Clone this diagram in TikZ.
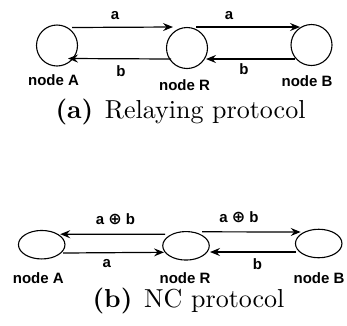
\documentclass[tikz,border=0pt]{standalone}
\usepackage{fontspec}
\newfontfamily\labfont{Liberation Sans}
\newfontfamily\symfont{DejaVu Sans}
\newfontfamily\capfont{lmroman10}[Extension=.otf,UprightFont=*-regular,BoldFont=*-bold]
\usetikzlibrary{arrows.meta,shapes.geometric}
\begin{document}
\begin{tikzpicture}[x=1pt,y=-1pt,
  station/.style={circle,draw,line width=1.1pt,minimum size=41pt,inner sep=0pt},
  ovalstation/.style={ellipse,draw,line width=1.1pt,minimum width=46.5pt,minimum height=28.5pt,inner sep=0pt},
  link/.style={line width=1.2pt,-{Stealth[length=10pt,width=8pt,inset=3.5pt]}},
  msg/.style={font=\labfont\bfseries\fontsize{15}{18}\selectfont,inner sep=0pt},
  tag/.style={font=\labfont\bfseries\fontsize{15}{18}\selectfont,inner sep=0pt,anchor=base},
  caption/.style={font=\capfont\fontsize{26}{30}\selectfont,inner sep=0pt,anchor=base}]
\useasboundingbox (0,0) rectangle (347,325);

% (a) relaying: three stations, two transmissions per hop
\node[station] (A1) at (57,45.5) {};
\node[station] (R1) at (187,48) {};
\node[station] (B1) at (311.5,45) {};

\draw[link] ([shift={(15,-18)}]A1.center) -- ([shift={(-14,-21)}]R1.center);
\draw[link] ([shift={(9,-21)}]R1.center) -- ([shift={(-11.5,-18)}]B1.center);
\draw[link] ([shift={(-16,11)}]R1.center) -- ([shift={(11,13)}]A1.center);
\draw[link] ([shift={(-16.5,14)}]B1.center) -- ([shift={(19,11)}]R1.center);

\node[msg] (ma1) at (115,16) {a};
\node[msg] (ma2) at (229,16) {a};
\node[msg] (mb1) at (121,71) {b};
\node[msg] (mb2) at (244,69) {b};

\node[tag] (tA1) at (53.5,85) {node A};
\node[tag] (tR1) at (184.5,90) {node R};
\node[tag] (tB1) at (307,86) {node B};

\node[caption] (capa) at (180.5,118) {\textbf{(a)}\hspace{0.45em}Relaying protocol};

% (b) network coding: relay broadcasts the XOR of both packets
\node[ovalstation] (A2) at (41.7,244.7) {};
\node[ovalstation] (R2) at (186,245.8) {};
\node[ovalstation] (B2) at (318.7,243.5) {};

\draw[link] ([shift={(-21,-11.5)}]R2.center) -- ([shift={(18.5,-10.5)}]A2.center);
\draw[link] ([shift={(21.5,8.3)}]A2.center) -- ([shift={(-22,6.5)}]R2.center);
\draw[link] ([shift={(16,-14)}]R2.center) -- ([shift={(-18,-11.5)}]B2.center);
\draw[link] ([shift={(-22.5,8.5)}]B2.center) -- ([shift={(24,6.2)}]R2.center);

\node[msg] (mx1) at (115.5,219) {a {\symfont\bfseries\fontsize{16}{18}\selectfont ⊕} b};
\node[msg] (mx2) at (239,217) {a {\symfont\bfseries\fontsize{16}{18}\selectfont ⊕} b};
\node[msg] (ma3) at (106.7,264) {a};
\node[msg] (mb3) at (257.5,264) {b};

\node[tag] (tA2) at (38.3,283.5) {node A};
\node[tag] (tR2) at (185,283.5) {node R};
\node[tag] (tB2) at (319,283.5) {node B};

\node[caption] (capb) at (188.5,307) {\textbf{(b)}\hspace{0.45em}NC protocol};
\end{tikzpicture}
\end{document}
